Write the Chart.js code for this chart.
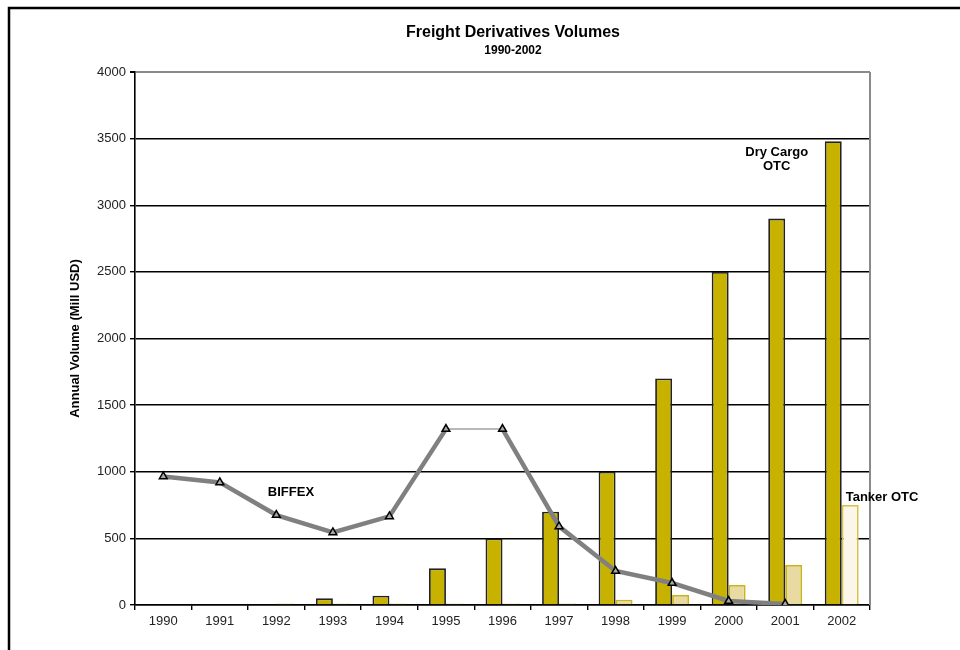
<!DOCTYPE html>
<html>
<head>
<meta charset="utf-8">
<script src="https://cdn.jsdelivr.net/npm/chart.js@4.4.1/dist/chart.umd.min.js"></script>
<style>
html,body{margin:0;padding:0;background:#fff;}
#wrap{width:960px;height:650px;position:relative;}
</style>
</head>
<body>
<div id="wrap"><canvas id="c" width="960" height="650"></canvas></div>
<script>
const years = ['1990','1991','1992','1993','1994','1995','1996','1997','1998','1999','2000','2001','2002'];
const dryCargoOTC = [0, 0, 0, 50, 70, 275, 500, 700, 1000, 1700, 2500, 2900, 3480];
const tankerOTC = [0, 0, 12, 12, 12, 12, 12, 12, 40, 75, 150, 300, 750];
const biffex = [965, 920, 675, 545, 665, 1320, 1320, 590, 255, 165, 30, 8, null];
const titleText = 'Freight Derivatives Volumes';
const subtitleText = '1990-2002';
const yAxisTitle = 'Annual Volume (Mill USD)';

const FONT = '"Liberation Sans", Arial, Helvetica, sans-serif';

const tankerFill = tankerOTC.map((v, i) => i === years.length - 1 ? '#faf6e9' : '#e9daa2');
const tankerBorder = tankerOTC.map((v, i) => i === years.length - 1 ? '#d6c44a' : '#c9b41c');

const decor = {
  id: 'decor',
  beforeDraw(chart) {
    const c = chart.ctx;
    c.save();
    c.fillStyle = '#fff';
    c.fillRect(0, 0, chart.width, chart.height);
    c.restore();
  },
  afterDatasetsDraw(chart) {
    const c = chart.ctx;
    const a = chart.chartArea;
    const xs = chart.scales.x, ys = chart.scales.y;
    c.save();
    c.strokeStyle = '#8a8a8a';
    c.lineWidth = 2;
    c.beginPath();
    c.moveTo(a.right, a.top);
    c.lineTo(a.right, a.bottom);
    c.stroke();
    c.strokeStyle = '#000';
    c.lineWidth = 2.5;
    c.beginPath();
    c.moveTo(9, 660);
    c.lineTo(9, 8);
    c.lineTo(970, 8);
    c.stroke();
    c.fillStyle = '#000';
    c.textAlign = 'center';
    c.textBaseline = 'middle';
    c.font = 'bold 16px ' + FONT;
    c.fillText(titleText, 513, 33);
    c.font = 'bold 12px ' + FONT;
    c.fillText(subtitleText, 513, 51);
    c.font = 'bold 13px ' + FONT;
    c.textAlign = 'left';
    c.fillText('BIFFEX', xs.getPixelForValue(1.85), ys.getPixelForValue(848));
    c.textAlign = 'center';
    c.fillText('Dry Cargo', xs.getPixelForValue(10.85), ys.getPixelForValue(3400));
    c.fillText('OTC', xs.getPixelForValue(10.85), ys.getPixelForValue(3295));
    c.textAlign = 'left';
    c.fillText('Tanker OTC', xs.getPixelForValue(12.07), ys.getPixelForValue(810));
    c.restore();
  }
};

new Chart(document.getElementById('c'), {
  type: 'bar',
  data: {
    labels: years,
    datasets: [
      {
        type: 'line',
        label: 'BIFFEX',
        data: biffex,
        order: 0,
        borderColor: '#808080',
        borderWidth: 4.5,
        tension: 0,
        spanGaps: false,
        pointStyle: 'triangle',
        pointRadius: 4.5,
        pointBackgroundColor: '#a8a8a8',
        pointBorderColor: '#000',
        pointBorderWidth: 1.5,
        segment: {
          borderWidth: ctx => ctx.p0DataIndex === 5 ? 1.5 : 4.5,
          borderColor: ctx => ctx.p0DataIndex === 5 ? '#a0a0a0' : '#808080'
        }
      },
      {
        label: 'Dry Cargo OTC',
        data: dryCargoOTC,
        order: 1,
        backgroundColor: '#c8b200',
        borderColor: '#222',
        borderWidth: 1.8,
        categoryPercentage: 0.6,
        barPercentage: 1.0
      },
      {
        label: 'Tanker OTC',
        data: tankerOTC,
        order: 1,
        backgroundColor: tankerFill,
        borderColor: tankerBorder,
        borderWidth: 1.8,
        categoryPercentage: 0.6,
        barPercentage: 1.0
      }
    ]
  },
  options: {
    responsive: false,
    animation: false,
    devicePixelRatio: 1,
    layout: { padding: { left: 68, right: 90, top: 72, bottom: 15 } },
    plugins: {
      legend: { display: false },
      title: { display: false },
      tooltip: { enabled: false }
    },
    scales: {
      x: {
        offset: true,
        afterFit: s => { s.height = 30; },
        grid: {
          offset: true,
          drawOnChartArea: false,
          drawTicks: true,
          tickLength: 5,
          color: '#000',
          lineWidth: 1.4
        },
        border: { color: '#000', width: 1.6 },
        ticks: {
          color: '#222',
          padding: 4,
          font: { family: FONT, size: 13 },
          maxRotation: 0,
          autoSkip: false
        }
      },
      y: {
        min: 0,
        max: 4000,
        afterFit: s => { s.width = 67; },
        grid: {
          color: ctx => (ctx.tick && ctx.tick.value === 4000) ? '#8a8a8a' : '#000',
          lineWidth: ctx => (ctx.tick && ctx.tick.value === 4000) ? 2 : 1.4,
          tickLength: 5,
          tickColor: '#000'
        },
        border: { color: '#000', width: 1.6 },
        ticks: {
          stepSize: 500,
          color: '#222',
          padding: 4,
          font: { family: FONT, size: 13 },
          callback: v => String(v)
        },
        title: {
          display: true,
          text: yAxisTitle,
          color: '#000',
          font: { family: FONT, size: 13, weight: 'bold' },
          padding: { top: 0, bottom: 4 }
        }
      }
    }
  },
  plugins: [decor]
});
</script>
</body>
</html>
